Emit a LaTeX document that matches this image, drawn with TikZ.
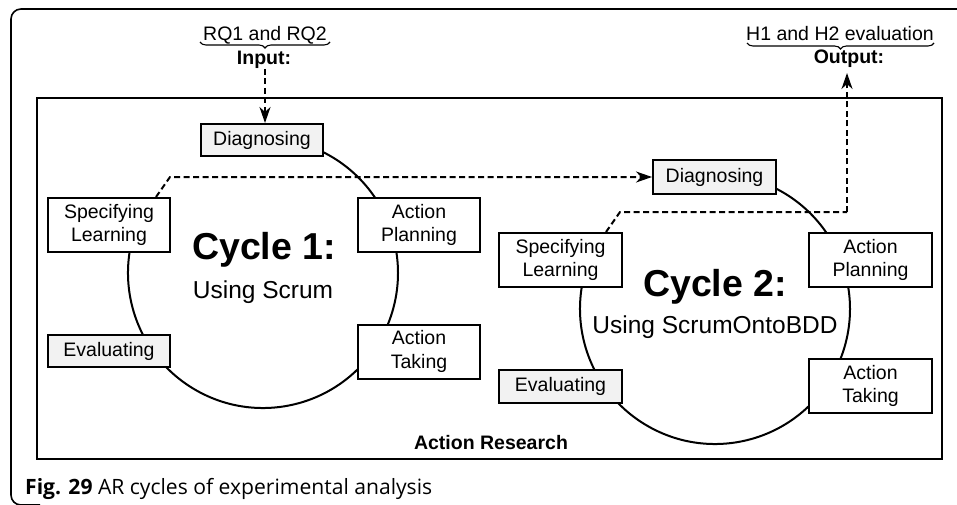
\documentclass[tikz,border=0pt]{standalone}
\usepackage{fontspec}
\setmainfont{Liberation Sans}
\newfontfamily\capfont{Open Sans}
\usetikzlibrary{arrows.meta,decorations.pathreplacing}
\definecolor{boxgray}{HTML}{F2F2F2}
\begin{document}
\begin{tikzpicture}[x=1pt,y=-1pt,
  stagebox/.style={draw,line width=2pt,fill=white,align=center,inner sep=0pt,
    minimum width=122pt,font=\fontsize{19.5}{23.5}\selectfont},
  graybox/.style={stagebox,fill=boxgray},
  onerow/.style={minimum height=32pt},
  tworow/.style={minimum height=54pt},
  cyclearc/.style={line width=2pt},
  flowplain/.style={line width=2pt,dash pattern=on 6pt off 3.5pt},
  flow/.style={flowplain,-{Stealth[length=16pt,width=11pt,inset=5pt]}},
  lbl/.style={font=\fontsize{19.5}{23.5}\selectfont,inner sep=0pt},
  bracestyle/.style={decorate,decoration={brace,mirror,amplitude=6pt},line width=1.1pt},
  titlefont/.style={font=\fontsize{37.5}{40}\selectfont\bfseries,inner sep=0pt},
  subfont/.style={font=\fontsize{24.5}{28}\selectfont,inner sep=0pt}
]
\useasboundingbox (0,0) rectangle (957,505);
\fill[white] (0,0) rectangle (957,505);
% outer frame
\draw[line width=1.6pt,rounded corners=10pt] (970,9) -- (11,9) -- (11,505) -- (40,505);
% action research frame
\draw[line width=2pt] (37,98) rectangle (942,459);
\node[lbl,font=\fontsize{19.5}{23.5}\selectfont\bfseries] (ar) at (491,443) {Action Research};

% centres of cycles
\coordinate (c1) at (263,273);
\coordinate (c2) at (715,309);
\draw[cyclearc] (c1) ++(150:135pt) arc[start angle=150,end angle=435,radius=135pt];
\draw[cyclearc] (c2) ++(150:135pt) arc[start angle=150,end angle=435,radius=135pt];

% cycle 1 boxes
\node[graybox,onerow] (diagA) at (262,140) {Diagnosing};
\node[stagebox,tworow] (specA) at (109,225) {Specifying\\Learning};
\node[stagebox,tworow] (planA) at (419,225) {Action\\Planning};
\node[graybox,onerow] (evalA) at (109,351) {Evaluating};
\node[stagebox,tworow] (takeA) at (419,351.5) {Action\\Taking};
\node[titlefont] (titleA) at (264,250) {Cycle 1:};
\node[subfont] (subA) at (263,292) {Using Scrum};

% cycle 2 boxes
\node[graybox,onerow,minimum height=33pt,minimum width=123pt] (diagB) at (714.5,177) {Diagnosing};
\node[stagebox,tworow,minimum width=123pt] (specB) at (560.5,260) {Specifying\\Learning};
\node[stagebox,tworow,minimum width=123pt] (planB) at (870.5,260) {Action\\Planning};
\node[graybox,onerow,minimum height=33pt,minimum width=123pt] (evalB) at (560.5,386.5) {Evaluating};
\node[stagebox,tworow,minimum width=123pt] (takeB) at (870.5,386) {Action\\Taking};
\node[titlefont] (titleB) at (715,287) {Cycle 2:};
\node[subfont] (subB) at (715,327) {Using ScrumOntoBDD};

% input
\node[lbl,anchor=base] (rq) at (265,41) {RQ1 and RQ2};
\draw[bracestyle] (200,42) -- (330,42);
\node[lbl,anchor=base,font=\fontsize{19.5}{23.5}\selectfont\bfseries] (inp) at (264,65) {Input:};
\coordinate (inStart) at (265,69);
\draw[flow] (inStart) -- (inStart |- diagA.north);

% output
\node[lbl,anchor=base] (hyp) at (840,41) {H1 and H2 evaluation};
\draw[bracestyle] (747,43) -- (934,43);
\node[lbl,anchor=base,font=\fontsize{19.5}{23.5}\selectfont\bfseries] (outp) at (849,64) {Output:};
\coordinate (outTip) at (847,73);

% transitions
\draw[flow] ([xshift=-15pt]specA.north east) -- (170,177) -- (diagB.west);
\draw[flowplain] ([xshift=-17pt]specB.north east) -- (620,212) -- (847,212);
\draw[flow] (847,212) -- (outTip);

% caption
\node[anchor=base west,inner sep=0pt] (cap) at (25,494)
  {\capfont\fontsize{21.1}{25}\selectfont\textbf{Fig. 29} AR cycles of experimental analysis};
\end{tikzpicture}
\end{document}
